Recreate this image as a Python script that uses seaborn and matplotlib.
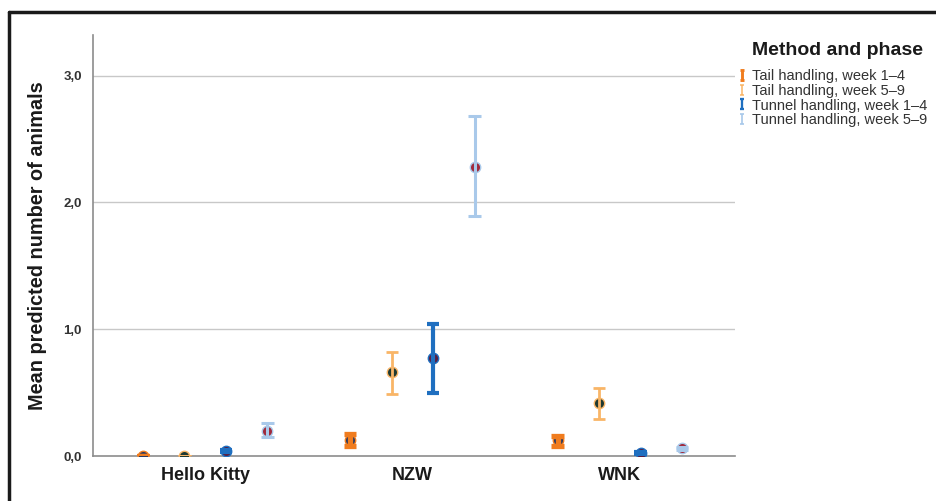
import matplotlib
matplotlib.use("Agg")
import matplotlib.pyplot as plt
from matplotlib.lines import Line2D
from matplotlib.path import Path
import seaborn as sns
import pandas as pd

# ---- data ----
strains = ["Hello Kitty", "NZW", "WNK"]
methods = ["Tail handling, week 1\u20134", "Tail handling, week 5\u20139",
           "Tunnel handling, week 1\u20134", "Tunnel handling, week 5\u20139"]
# mean, lower, upper per method (rows) and strain (columns)
means = [[0.00, 0.13, 0.13],
         [0.00, 0.66, 0.42],
         [0.04, 0.77, 0.02],
         [0.20, 2.28, 0.06]]
lowers = [[0.00, 0.08, 0.08],
          [0.00, 0.49, 0.29],
          [0.03, 0.50, 0.01],
          [0.15, 1.89, 0.05]]
uppers = [[0.00, 0.17, 0.16],
          [0.00, 0.82, 0.54],
          [0.05, 1.04, 0.03],
          [0.26, 2.68, 0.07]]
ytick_vals = [0.0, 1.0, 2.0, 3.0]
ytick_labels = ["0,0", "1,0", "2,0", "3,0"]

colors = ["#f07c1e", "#f9b567", "#1f6fc0", "#a9c9ea"]
face_colors = ["#2a3a62", "#1f3a32", "#5a1e40", "#a02a3c"]
err_widths = [3.8, 2.0, 3.0, 2.2]

rows = []
for mi, m in enumerate(methods):
    for si, s in enumerate(strains):
        for v in (lowers[mi][si], means[mi][si], uppers[mi][si]):
            rows.append({"Strain": s, "Method": m, "Value": v})
df = pd.DataFrame(rows)

sns.set_style("white")
plt.rcParams["font.family"] = ["Liberation Sans", "DejaVu Sans"]

fig = plt.figure(figsize=(9.36, 5.01), dpi=100)
ax = fig.add_axes([0.0994, 0.0898, 0.6859, 0.8403])

for y in ytick_vals[1:]:
    ax.axhline(y, color="#c8c8c8", lw=1.0, zorder=0)

sns.pointplot(data=df, x="Strain", y="Value", hue="Method", order=strains,
              hue_order=methods, palette=colors, estimator="median",
              errorbar=("pi", 100), dodge=0.6, linestyle="none",
              markers="o", markersize=7.5, capsize=0.06,
              err_kws={"linewidth": 2}, legend=False, ax=ax)

# style per hue: marker lines vs error bar lines
hue_i = -1
for ln in ax.lines:
    if ln.get_marker() not in (None, "None", "", " "):
        hue_i += 1
        ln.set_markerfacecolor(face_colors[hue_i])
        ln.set_markeredgecolor(colors[hue_i])
        ln.set_markeredgewidth(1.0)
        ln.set_zorder(3)
    elif hue_i >= 0:
        ln.set_linewidth(err_widths[hue_i])
        ln.set_zorder(4)
        ln.set_solid_capstyle("butt")

ax.set_xlim(-0.54, 2.555)
ax.set_ylim(0, 3.32)
ax.set_yticks(ytick_vals)
ax.set_yticklabels(ytick_labels, fontsize=9.5, fontweight="bold", color="#333333")
ax.set_xticks(range(len(strains)))
ax.set_xticklabels(strains, fontsize=13, fontweight="bold", color="#1a1a1a")
ax.set_xlabel("")
ax.set_ylabel("Mean predicted number of animals", fontsize=14.3,
              fontweight="bold", color="#1a1a1a", labelpad=12)
ax.tick_params(axis="both", length=0, pad=8)
for side in ("top", "right"):
    ax.spines[side].set_visible(False)
for side in ("left", "bottom"):
    ax.spines[side].set_color("#8c8c8c")
    ax.spines[side].set_linewidth(1.2)

ibeam = Path([(-0.4, 1), (0.4, 1), (0, 1), (0, -1), (-0.4, -1), (0.4, -1)],
             [Path.MOVETO, Path.LINETO, Path.MOVETO, Path.LINETO,
              Path.MOVETO, Path.LINETO])
handles = [Line2D([], [], linestyle="none", marker=ibeam, markersize=6.5,
                  color=c, markeredgewidth=w * 0.55, fillstyle="none")
           for c, w in zip(colors, err_widths)]
fig.text(0.8035, 0.9, "Method and phase", fontsize=14, fontweight="bold",
         color="#1a1a1a", ha="left", va="center")
leg = fig.legend(handles, methods, loc="upper left",
                 bbox_to_anchor=(0.788, 0.862),
                 frameon=False, fontsize=10.5,
                 handlelength=0.6, handletextpad=0.4, labelspacing=0.05,
                 borderaxespad=0, borderpad=0)
for t in leg.get_texts():
    t.set_color("#333333")

# figure frame: left and top black border
fig.add_artist(Line2D([0.0096, 0.0096], [0.0, 0.976], transform=fig.transFigure,
                      color="#1a1a1a", lw=2.5))
fig.add_artist(Line2D([0.0096, 1.0], [0.976, 0.976], transform=fig.transFigure,
                      color="#1a1a1a", lw=2.5))

fig.savefig("out.png", dpi=100, facecolor="white")
